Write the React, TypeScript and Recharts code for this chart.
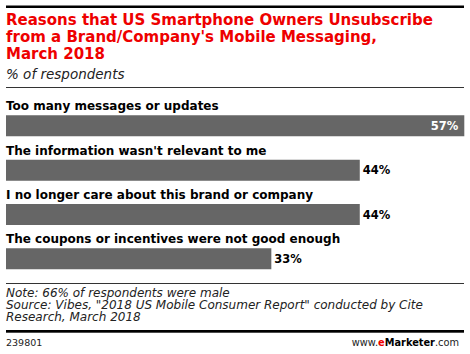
import React from "react";
import { BarChart, Bar, XAxis, YAxis, LabelList } from "recharts";

const categories = [
  "Too many messages or updates",
  "The information wasn't relevant to me",
  "I no longer care about this brand or company",
  "The coupons or incentives were not good enough",
];
const values = [57, 44, 44, 33];
const titleLines = [
  "Reasons that US Smartphone Owners Unsubscribe",
  "from a Brand/Company's Mobile Messaging,",
  "March 2018",
];
const subtitle = "% of respondents";
const footerLines = [
  "Note: 66% of respondents were male",
  'Source: Vibes, "2018 US Mobile Consumer Report" conducted by Cite',
  "Research, March 2018",
];
const chartId = "239801";

const data = categories.map((name, i) => ({ name, value: values[i] }));

const BOLD = "'DejaVu Sans', sans-serif";

const CategoryLabel = (props: any) => {
  const { x, y, index } = props;
  return (
    <text x={x} y={y - 5} fontFamily={BOLD} fontWeight="bold" fontSize={12} fill="#000">
      {categories[index]}
    </text>
  );
};

const ValueLabel = (props: any) => {
  const { x, y, width, height, index } = props;
  const v = values[index];
  const inside = index === 0;
  return (
    <text
      x={inside ? x + width - 6 : x + width + 3}
      y={y + height / 2 + 4}
      textAnchor={inside ? "end" : "start"}
      fontFamily={BOLD}
      fontWeight="bold"
      fontSize={11.5}
      fill={inside ? "#fff" : "#000"}
    >
      {v}%
    </text>
  );
};

export default function App() {
  return (
    <div style={{ position: "absolute", left: 0, top: 0, width: 470, height: 354, background: "#fff", overflow: "hidden" }}>
      <svg width={470} height={354} style={{ position: "absolute", left: 0, top: 0 }}>
        <rect x={6} y={5.5} width={458} height={2.5} fill="#000" />
        {titleLines.map((t, i) => (
          <text key={i} x={6} y={25.3 + i * 17} fontFamily={BOLD} fontWeight="bold" fontSize={15} fill="#ee0000">
            {t}
          </text>
        ))}
        <text x={6} y={79.3} fontFamily={BOLD} fontStyle="italic" fontSize={13.5} fill="#222">
          {subtitle}
        </text>
        <rect x={6} y={87} width={458} height={0.8} fill="#000" />
        <rect x={6} y={283} width={458} height={0.8} fill="#000" />
        {footerLines.map((t, i) => (
          <text key={i} x={6} y={297.3 + i * 11.7} fontFamily={BOLD} fontStyle="italic" fontSize={12} fill="#222">
            {t}
          </text>
        ))}
        <rect x={6} y={330} width={458} height={2.7} fill="#000" />
        <text x={6} y={346} fontFamily={BOLD} fontSize={9.5} fill="#222">
          {chartId}
        </text>
        <text x={459} y={346} textAnchor="end" fontFamily={BOLD} fontSize={9.8} fill="#222">
          <tspan>www.</tspan>
          <tspan fill="#ee0000" fontWeight="bold">e</tspan>
          <tspan fontWeight="bold" fill="#000">Marketer</tspan>
          <tspan>.com</tspan>
        </text>
      </svg>
      <div style={{ position: "absolute", left: 0, top: 0 }}>
        <BarChart
          width={470}
          height={354}
          data={data}
          layout="vertical"
          margin={{ top: 103.3, bottom: 73.3, left: 6, right: 5.7 }}
        >
          <XAxis type="number" domain={[0, 57]} hide />
          <YAxis type="category" dataKey="name" hide />
          <Bar dataKey="value" fill="#666666" barSize={21} isAnimationActive={false}>
            <LabelList dataKey="name" content={<CategoryLabel />} />
            <LabelList dataKey="value" content={<ValueLabel />} />
          </Bar>
        </BarChart>
      </div>
    </div>
  );
}
